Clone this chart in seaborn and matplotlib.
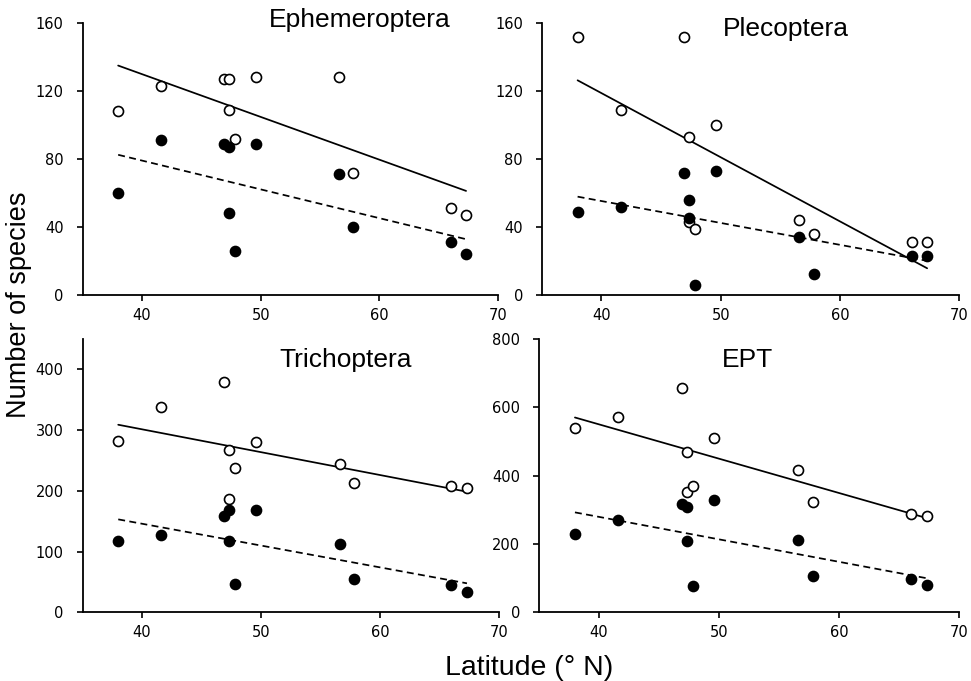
import numpy as np
import pandas as pd
import matplotlib
matplotlib.use("Agg")
import matplotlib.pyplot as plt
import seaborn as sns

# Site latitudes (same 11 sites in every panel)
latitude = [38.0, 41.6, 46.9, 47.3, 47.3, 47.8, 49.6, 56.6, 57.8, 66.0, 67.3]

# open circles = total species, filled circles = second group
ephem_open = [108, 123, 127, 127, 109, 92, 128, 128, 72, 51, 47]
ephem_filled = [60, 91, 89, 87, 48, 26, 89, 71, 40, 31, 24]

pleco_open = [152, 109, 152, 93, 43, 39, 100, 44, 36, 31, 31]
pleco_filled = [49, 52, 72, 56, 45, 6, 73, 34, 12, 23, 23]

trich_open = [282, 338, 380, 268, 186, 237, 280, 244, 213, 208, 204]
trich_filled = [118, 127, 159, 169, 118, 47, 168, 112, 54, 45, 33]

ept_open = [541, 573, 657, 469, 353, 370, 510, 418, 322, 289, 282]
ept_filled = [230, 269, 318, 308, 209, 78, 330, 213, 107, 98, 81]

panel_names = ["Ephemeroptera", "Plecoptera", "Trichoptera", "EPT"]
y_ticks = [[0, 40, 80, 120, 160], [0, 40, 80, 120, 160],
           [0, 100, 200, 300, 400], [0, 200, 400, 600, 800]]
y_tops = [160, 160, 450, 800]

sns.set_style("ticks")
plt.rcParams["font.family"] = ["DejaVu Sans"]
plt.rcParams["text.color"] = "black"

fig = plt.figure(figsize=(9.71, 6.81), dpi=100)
rects = [[0.085, 0.567, 0.428, 0.399], [0.558, 0.567, 0.430, 0.399],
         [0.085, 0.101, 0.429, 0.401], [0.555, 0.101, 0.433, 0.401]]
title_pos = [(0.668, 1.01), (0.584, 0.98), (0.632, 0.923), (0.495, 0.923)]

series = [(ephem_open, ephem_filled), (pleco_open, pleco_filled),
          (trich_open, trich_filled), (ept_open, ept_filled)]

for i, (name, (y_open, y_fill)) in enumerate(zip(panel_names, series)):
    ax = fig.add_axes(rects[i])
    df = pd.DataFrame({"lat": latitude, "open": y_open, "filled": y_fill})

    # regression lines
    sns.regplot(data=df, x="lat", y="open", scatter=False, ci=None, ax=ax,
                line_kws=dict(color="black", lw=1.25, zorder=2))
    sns.regplot(data=df, x="lat", y="filled", scatter=False, ci=None, ax=ax,
                line_kws=dict(color="black", lw=1.25, ls=(0, (4, 2.5)), zorder=2))

    # points
    sns.scatterplot(data=df, x="lat", y="open", ax=ax, s=52, color="white",
                    edgecolor="black", linewidth=1.2, zorder=3)
    sns.scatterplot(data=df, x="lat", y="filled", ax=ax, s=52, color="black",
                    edgecolor="black", linewidth=1.2, zorder=3)

    ax.set_xlim(35, 70)
    ax.set_ylim(0, y_tops[i])
    ax.set_xticks([40, 50, 60, 70])
    ax.set_yticks(y_ticks[i])
    ax.set_xlabel("")
    ax.set_ylabel("")
    sns.despine(ax=ax)
    for sp in ["left", "bottom"]:
        ax.spines[sp].set_linewidth(1.3)
        ax.spines[sp].set_color("black")
    ax.tick_params(axis="both", direction="out", length=4.5, width=1.2,
                   labelsize=10.5, colors="black")
    ax.tick_params(axis="y", pad=9)
    ax.tick_params(axis="x", pad=5)
    ax.text(title_pos[i][0], title_pos[i][1], name, transform=ax.transAxes,
            ha="center", va="center", fontsize=19, family="Liberation Sans",
            color="black")

fig.text(0.0196, 0.552, "Number of species", rotation=90, ha="center",
         va="center", fontsize=19.5, family="Liberation Sans", color="black")
fig.text(0.5445, 0.019, "Latitude (° N)", ha="center", va="center",
         fontsize=20.5, family="Liberation Sans", color="black")

fig.savefig("out.png", dpi=100, facecolor="white")
